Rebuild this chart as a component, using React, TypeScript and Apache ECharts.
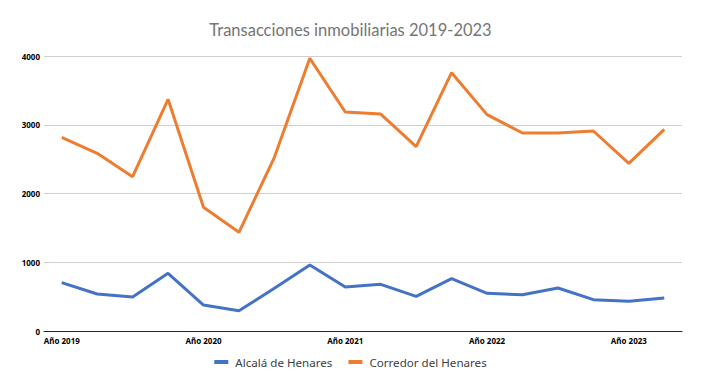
import React, { useEffect, useRef } from "react";
import * as echarts from "echarts";

const categories = [
  "Año 2019", "2019 T2", "2019 T3", "2019 T4",
  "Año 2020", "2020 T2", "2020 T3", "2020 T4",
  "Año 2021", "2021 T2", "2021 T3", "2021 T4",
  "Año 2022", "2022 T2", "2022 T3", "2022 T4",
  "Año 2023", "2023 T2",
];

const alcala = [703, 538, 495, 839, 378, 296, 621, 960, 640, 679, 504, 761, 548, 528, 625, 456, 432, 480];
const corredor = [2817, 2585, 2244, 3370, 1799, 1435, 2526, 3966, 3185, 3156, 2681, 3757, 3147, 2880, 2880, 2909, 2439, 2933];

const seriesNames = ["Alcalá de Henares", "Corredor del Henares"];
const title = "Transacciones inmobiliarias 2019-2023";

export default function App() {
  const ref = useRef<HTMLDivElement>(null);
  useEffect(() => {
    if (!ref.current) return;
    const chart = echarts.init(ref.current, undefined, { renderer: "svg" });
    chart.setOption({
      animation: false,
      title: {
        text: title,
        left: "center",
        top: 16,
        textStyle: { fontFamily: "Lato", fontSize: 16.5, fontWeight: "normal", color: "#757575" },
      },
      legend: {
        bottom: 17,
        left: "center",
        itemWidth: 14,
        itemHeight: 4,
        itemGap: 16,
        icon: "rect",
        textStyle: { fontFamily: "Noto Sans", fontSize: 11.6, color: "#404040", padding: [0, 0, 0, 2] },
        data: seriesNames,
      },
      grid: { left: 44, right: 19, top: 56, bottom: 59 },
      xAxis: {
        type: "category",
        data: categories,
        boundaryGap: true,
        axisLine: { lineStyle: { color: "#262626", width: 1 } },
        axisTick: { show: false },
        axisLabel: {
          interval: 3,
          fontSize: 8,
          fontWeight: "bold",
          color: "#000",
          fontFamily: "Noto Sans",
          margin: 5,
        },
      },
      yAxis: {
        type: "value",
        min: 0,
        max: 4000,
        interval: 1000,
        axisLine: { show: false },
        axisTick: { show: false },
        splitLine: { lineStyle: { color: "#d0d0d0", width: 1 } },
        axisLabel: {
          fontSize: 8,
          fontWeight: "bold",
          color: "#000",
          fontFamily: "Noto Sans",
          margin: 4,
          formatter: (v: number) => String(v),
        },
      },
      series: [
        {
          name: seriesNames[0],
          type: "line",
          data: alcala,
          symbol: "none",
          lineStyle: { width: 3, color: "#4472C4" },
          itemStyle: { color: "#4472C4" },
        },
        {
          name: seriesNames[1],
          type: "line",
          data: corredor,
          symbol: "none",
          lineStyle: { width: 3, color: "#ED7D31" },
          itemStyle: { color: "#ED7D31" },
        },
      ],
    });
    return () => chart.dispose();
  }, []);
  return <div ref={ref} style={{ width: 701, height: 390, position: "absolute", left: 0, top: 0 }} />;
}
